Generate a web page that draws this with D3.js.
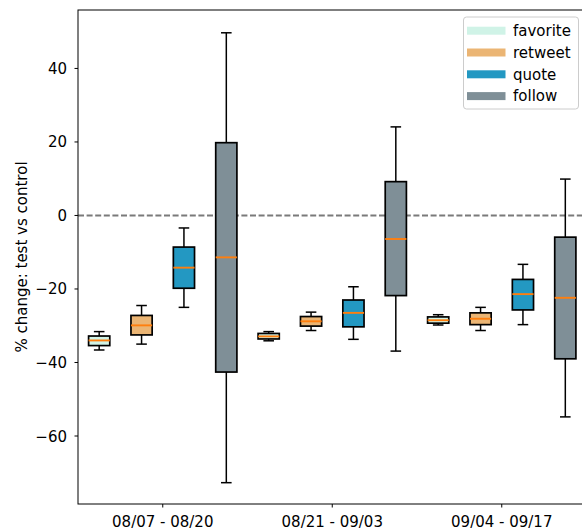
<!DOCTYPE html>
<html><head><meta charset="utf-8">
<script src="https://cdn.jsdelivr.net/npm/d3@7"></script>
<style>body{margin:0;background:#fff}svg{display:block;font-family:"DejaVu Sans",sans-serif}</style>
</head><body><svg id="c" width="582" height="531"></svg>
<script>
const periods = ["08/07 - 08/20", "08/21 - 09/03", "09/04 - 09/17"];
const seriesNames = ["favorite", "retweet", "quote", "follow"];
const seriesColors = ["#d0f3e7", "#ebb574", "#2398c2", "#7f8f97"];
// [lower whisker, Q1, median, Q3, upper whisker] per period
const favorite = [[-36.6,-35.4,-34.0,-32.8,-31.6],[-34.1,-33.6,-32.9,-32.1,-31.6],[-29.8,-29.3,-28.5,-27.6,-27.0]];
const retweet  = [[-35.0,-32.5,-29.9,-27.2,-24.5],[-31.3,-30.1,-28.8,-27.5,-26.3],[-31.3,-29.7,-28.1,-26.5,-25.0]];
const quote    = [[-25.0,-19.8,-14.2,-8.6,-3.4],[-33.7,-30.3,-26.5,-23.0,-19.4],[-29.7,-25.7,-21.4,-17.4,-13.3]];
const follow   = [[-72.7,-42.6,-11.4,19.8,49.7],[-36.9,-21.8,-6.4,9.2,24.1],[-54.8,-39.0,-22.4,-5.9,9.9]];
const yTicks = [-60, -40, -20, 0, 20, 40];
const yLabel = "% change: test vs control";

const seriesData = [favorite, retweet, quote, follow];
const offsets = [-0.375, -0.125, 0.125, 0.375];
const boxW = 0.125;

const L = 78, T = 10, R = 586.5, B = 504;
const svg = d3.select("#c");
const x = d3.scaleLinear().domain([0.5, 3.5]).range([L, R]);
const y = d3.scaleLinear().domain([-78.5, 55.9]).range([B, T]);

// zero line
svg.append("line").attr("x1", L).attr("x2", R).attr("y1", y(0)).attr("y2", y(0))
  .attr("stroke", "#7a7a7a").attr("stroke-width", 1.9).attr("stroke-dasharray", "6,2.6");

const g = svg.append("g");
seriesData.forEach((ser, si) => {
  ser.forEach((d, pi) => {
    const cx = x(pi + 1 + offsets[si]);
    const hw = (x(boxW) - x(0)) / 2;
    const cw = hw / 2;
    const [lo, q1, med, q3, hi] = d;
    const sw = 1.5;
    g.append("line").attr("x1", cx).attr("x2", cx).attr("y1", y(q3)).attr("y2", y(hi)).attr("stroke", "#000").attr("stroke-width", sw);
    g.append("line").attr("x1", cx).attr("x2", cx).attr("y1", y(q1)).attr("y2", y(lo)).attr("stroke", "#000").attr("stroke-width", sw);
    g.append("line").attr("x1", cx - cw).attr("x2", cx + cw).attr("y1", y(hi)).attr("y2", y(hi)).attr("stroke", "#000").attr("stroke-width", sw);
    g.append("line").attr("x1", cx - cw).attr("x2", cx + cw).attr("y1", y(lo)).attr("y2", y(lo)).attr("stroke", "#000").attr("stroke-width", sw);
    g.append("rect").attr("x", cx - hw).attr("width", 2 * hw)
      .attr("y", y(q3)).attr("height", y(q1) - y(q3))
      .attr("fill", seriesColors[si]).attr("stroke", "#000").attr("stroke-width", 1.7);
    g.append("line").attr("x1", cx - hw).attr("x2", cx + hw).attr("y1", y(med)).attr("y2", y(med))
      .attr("stroke", "#ff7f0e").attr("stroke-width", 1.9);
  });
});

// spines
svg.append("rect").attr("x", L).attr("y", T).attr("width", R - L).attr("height", B - T)
  .attr("fill", "none").attr("stroke", "#000").attr("stroke-width", 1);

// y axis
const ya = svg.append("g");
yTicks.forEach(t => {
  ya.append("line").attr("x1", L - 3.5).attr("x2", L).attr("y1", y(t)).attr("y2", y(t)).attr("stroke", "#000").attr("stroke-width", 1);
  ya.append("text").attr("x", L - 11).attr("y", y(t) + 5.5).attr("text-anchor", "end")
    .attr("font-size", 15).attr("fill", "#000").text(d3.format("d")(t));
});
// x axis
periods.forEach((p, i) => {
  svg.append("line").attr("x1", x(i + 1)).attr("x2", x(i + 1)).attr("y1", B).attr("y2", B + 3.5).attr("stroke", "#000");
  svg.append("text").attr("x", x(i + 1)).attr("y", B + 23).attr("text-anchor", "middle")
    .attr("font-size", 15).attr("fill", "#000").text(p);
});
svg.append("text").attr("transform", `translate(27,${(T + B) / 2}) rotate(-90)`)
  .attr("text-anchor", "middle").attr("font-size", 15).attr("fill", "#000").text(yLabel);

// legend
const lg = svg.append("g");
lg.append("rect").attr("x", 463.5).attr("y", 17).attr("width", 115).attr("height", 92).attr("rx", 3)
  .attr("fill", "#fff").attr("fill-opacity", 0.8).attr("stroke", "#cccccc").attr("stroke-width", 1);
seriesNames.forEach((n, i) => {
  const cy = 30.7 + i * 21.8;
  lg.append("rect").attr("x", 467).attr("y", cy - 4).attr("width", 38.5).attr("height", 8).attr("fill", seriesColors[i]);
  lg.append("text").attr("x", 513).attr("y", cy + 5.2).attr("font-size", 15).attr("fill", "#000").text(n);
});
</script></body></html>
